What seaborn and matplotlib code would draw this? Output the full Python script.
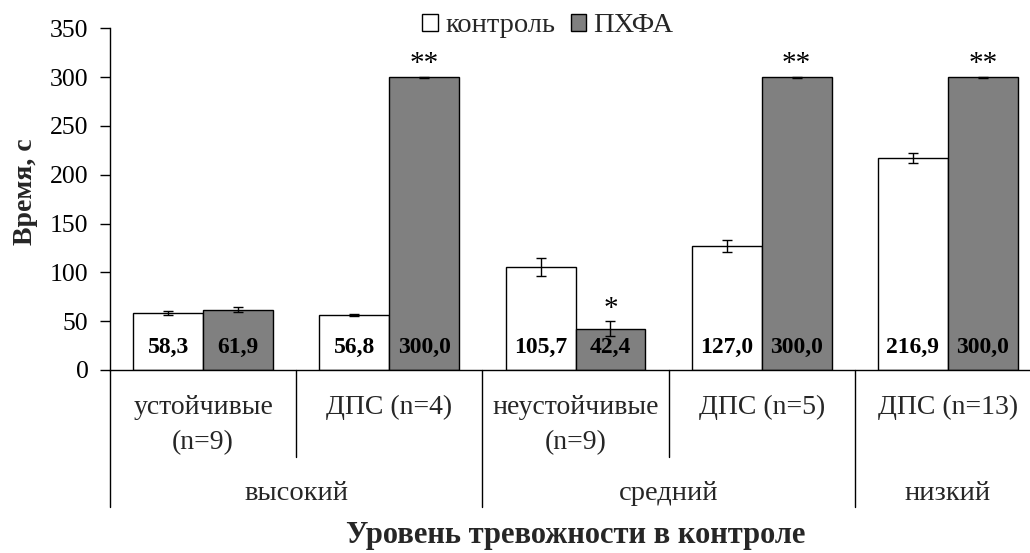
import numpy as np
import pandas as pd
import matplotlib
matplotlib.use("Agg")
import matplotlib.pyplot as plt
import seaborn as sns

# ---- data ----
subcats = ["устойчивые\n(n=9)", "ДПС (n=4)", "неустойчивые\n(n=9)", "ДПС (n=5)", "ДПС (n=13)"]
groups = ["высокий", "средний", "низкий"]
group_span = [(0, 1), (2, 3), (4, 4)]
series = ["контроль", "ПХФА"]
control = [58.3, 56.8, 105.7, 127.0, 216.9]
control_err = [2.4, 1.0, 9.0, 6.0, 5.3]
phfa = [61.9, 300.0, 42.4, 300.0, 300.0]
phfa_err = [3.0, 0.4, 7.7, 0.4, 0.4]
stars = ["", "**", "*", "**", "**"]
value_labels_ctrl = ["58,3", "56,8", "105,7", "127,0", "216,9"]
value_labels_phfa = ["61,9", "300,0", "42,4", "300,0", "300,0"]
yticks = [0, 50, 100, 150, 200, 250, 300, 350]

df = pd.DataFrame({
    "cat": subcats * 2,
    "grp": [series[0]] * 5 + [series[1]] * 5,
    "val": control + phfa,
})

sns.set_style("ticks")
plt.rcParams["font.family"] = ["Liberation Serif", "DejaVu Serif"]

W, H = 1030, 553
fig = plt.figure(figsize=(W / 100, H / 100), dpi=100)
ax_l, ax_r, ax_t, ax_b = 110, 1041, 28.3, 370
ax = fig.add_axes([ax_l / W, 1 - ax_b / H, (ax_r - ax_l) / W, (ax_b - ax_t) / H])

sns.barplot(data=df, x="cat", y="val", hue="grp", order=subcats, hue_order=series,
            palette=["white", "#808080"], edgecolor="black", linewidth=1.0,
            width=0.75, errorbar=None, ax=ax, legend=True)

ax.set_xlim(-0.5, 4.5)
ax.set_ylim(0, 350)
ax.set_yticks(yticks)
ax.tick_params(axis="y", direction="out", length=7.5, width=1, labelsize=18.5, pad=8, colors="black")
ax.set_xticks([])
ax.set_xlabel("")
ax.set_ylabel("Время, с", fontsize=20, fontweight="bold")
ax.yaxis.set_label_coords(-0.077, 0.521)
for s in ["top", "right"]:
    ax.spines[s].set_visible(False)
for s in ["left", "bottom"]:
    ax.spines[s].set_color("black")
    ax.spines[s].set_linewidth(1.0)

# error bars, value labels, stars from bar containers
conts = ax.containers
for ci, (cont, vals, errs, labs) in enumerate(zip(conts, [control, phfa], [control_err, phfa_err],
                                                  [value_labels_ctrl, value_labels_phfa])):
    for i, bar in enumerate(cont.patches):
        xc = bar.get_x() + bar.get_width() / 2
        ax.errorbar(xc, vals[i], yerr=errs[i], fmt="none", ecolor="black",
                    elinewidth=1.0, capsize=3.8, capthick=1.0, zorder=5)
        ax.text(xc, 17, labs[i], ha="center", va="baseline", fontsize=17,
                fontweight="bold", color="black", zorder=6)
        if ci == 1 and stars[i]:
            ax.text(xc, vals[i] + errs[i] + 5.5, stars[i], ha="center", va="baseline",
                    fontsize=21, color="black")

# category / group labels below the axis
def ay(py):
    return -(py - ax_b) / (ax_b - ax_t)

trans = ax.get_xaxis_transform()
for i, lab in enumerate(subcats):
    lines = lab.split("\n")
    ax.text(i, ay(407), lines[0], transform=trans, ha="center", va="center", fontsize=20)
    if len(lines) > 1:
        ax.text(i, ay(443), lines[1], transform=trans, ha="center", va="center", fontsize=20)
for g, (a, b) in zip(groups, group_span):
    ax.text((a + b) / 2, ay(493), g, transform=trans, ha="center", va="center", fontsize=20.5)

# separators
for xb in [-0.5, 1.5, 3.5]:
    ax.plot([xb, xb], [0, ay(507)], transform=trans, color="black", lw=1.0, clip_on=False)
for xb in [0.5, 2.5]:
    ax.plot([xb, xb], [0, ay(457)], transform=trans, color="black", lw=1.0, clip_on=False)

ax.text(2.0, ay(543), "Уровень тревожности в контроле", transform=trans,
        ha="center", va="baseline", fontsize=22, fontweight="bold")

# legend
handles, labels = ax.get_legend_handles_labels()
if ax.get_legend():
    ax.get_legend().remove()
for h in handles:
    h.set_edgecolor("black")
    h.set_linewidth(1.0)
fig.legend(handles, labels, loc="center", bbox_to_anchor=(548 / W, 1 - 26 / H), ncol=2,
           frameon=False, fontsize=20.5, handlelength=0.55, handleheight=0.55,
           handletextpad=0.25, columnspacing=0.55, borderpad=0)

fig.savefig("out.png", dpi=100)
